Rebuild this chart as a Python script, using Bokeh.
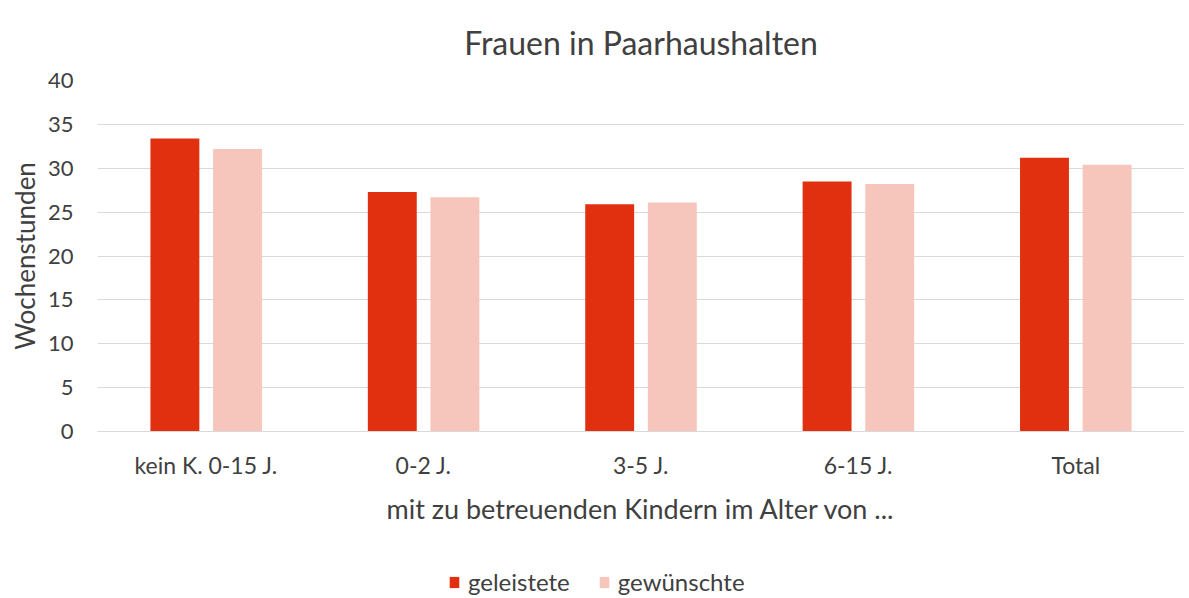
from bokeh.plotting import figure
from bokeh.layouts import column
from bokeh.models import ColumnDataSource, Legend, LegendItem, FixedTicker, Range1d
from bokeh.transform import dodge
from bokeh.embed import file_html
from bokeh.resources import INLINE

categories = ["kein K. 0-15 J.", "0-2 J.", "3-5 J.", "6-15 J.", "Total"]
geleistete = [33.4, 27.3, 25.9, 28.5, 31.2]
gewuenschte = [32.2, 26.7, 26.1, 28.2, 30.4]
series_names = ["geleistete", "gewünschte"]
y_ticks = [0, 5, 10, 15, 20, 25, 30, 35, 40]

FONT = "Lato"
TXT = "#404040"
C1 = "#E0300F"
C2 = "#F6C6BC"

src = ColumnDataSource(dict(cat=categories, g=geleistete, w=gewuenschte))

p = figure(x_range=categories, y_range=Range1d(0, 40), width=1184, height=530,
           output_backend="svg", toolbar_location=None,
           min_border_left=97, min_border_right=0, min_border_top=80, min_border_bottom=99)
p.x_range.range_padding = 0

r1 = p.vbar(x=dodge("cat", -0.144, range=p.x_range), top="g", width=0.225,
            source=src, color=C1, line_color=None)
r2 = p.vbar(x=dodge("cat", 0.144, range=p.x_range), top="w", width=0.225,
            source=src, color=C2, line_color=None)

p.title.text = "Frauen in Paarhaushalten"
p.title.align = "center"
p.title.text_font = FONT
p.title.text_font_size = "32px"
p.title.text_font_style = "normal"
p.title.text_color = TXT
p.title.standoff = 38

p.outline_line_color = None
p.xgrid.grid_line_color = None
p.ygrid.grid_line_color = "#D9D9D9"
p.ygrid.ticker = FixedTicker(ticks=y_ticks)

p.yaxis.ticker = FixedTicker(ticks=y_ticks)
p.yaxis.axis_line_color = None
p.yaxis.major_tick_line_color = None
p.yaxis.major_tick_out = 0
p.yaxis.minor_tick_line_color = None
p.yaxis.major_label_text_font = FONT
p.yaxis.major_label_text_font_size = "22px"
p.yaxis.major_label_text_color = TXT
p.yaxis.major_label_standoff = 24
p.yaxis.axis_label = "Wochenstunden"
p.yaxis.axis_label_text_font = FONT
p.yaxis.axis_label_text_font_size = "26px"
p.yaxis.axis_label_text_font_style = "normal"
p.yaxis.axis_label_text_color = TXT
p.yaxis.axis_label_standoff = 4

p.xaxis.axis_line_color = "#D9D9D9"
p.xaxis.major_tick_line_color = None
p.xaxis.major_tick_out = 0
p.xaxis.minor_tick_line_color = None
p.xaxis.major_label_text_font = FONT
p.xaxis.major_label_text_font_size = "23px"
p.xaxis.major_label_text_color = TXT
p.xaxis.major_label_standoff = 19
p.xaxis.axis_label = "mit zu betreuenden Kindern im Alter von ..."
p.xaxis.axis_label_text_font = FONT
p.xaxis.axis_label_text_font_size = "27px"
p.xaxis.axis_label_text_font_style = "normal"
p.xaxis.axis_label_text_color = TXT
p.xaxis.axis_label_standoff = 10

# legend strip below the chart
q = figure(width=1184, height=66, output_backend="svg", toolbar_location=None,
           x_range=Range1d(0, 1), y_range=Range1d(0, 1),
           x_axis_type=None, y_axis_type=None, min_border=0)
q.outline_line_color = None
q.grid.visible = False
d1 = q.vbar(x=[5], top=[5], width=0.1, color=C1, line_color=None)
d2 = q.vbar(x=[5], top=[5], width=0.1, color=C2, line_color=None)
legend = Legend(items=[LegendItem(label=series_names[0], renderers=[d1]),
                       LegendItem(label=series_names[1], renderers=[d2])],
                orientation="horizontal", location=(351, 0),
                label_text_font=FONT, label_text_font_size="24px",
                label_text_color=TXT, border_line_color=None,
                background_fill_alpha=0,
                glyph_width=12, glyph_height=14, spacing=28,
                label_standoff=8, padding=0, margin=0)
q.add_layout(legend)

open("out.html", "w").write(file_html(column(p, q, spacing=0), INLINE))
